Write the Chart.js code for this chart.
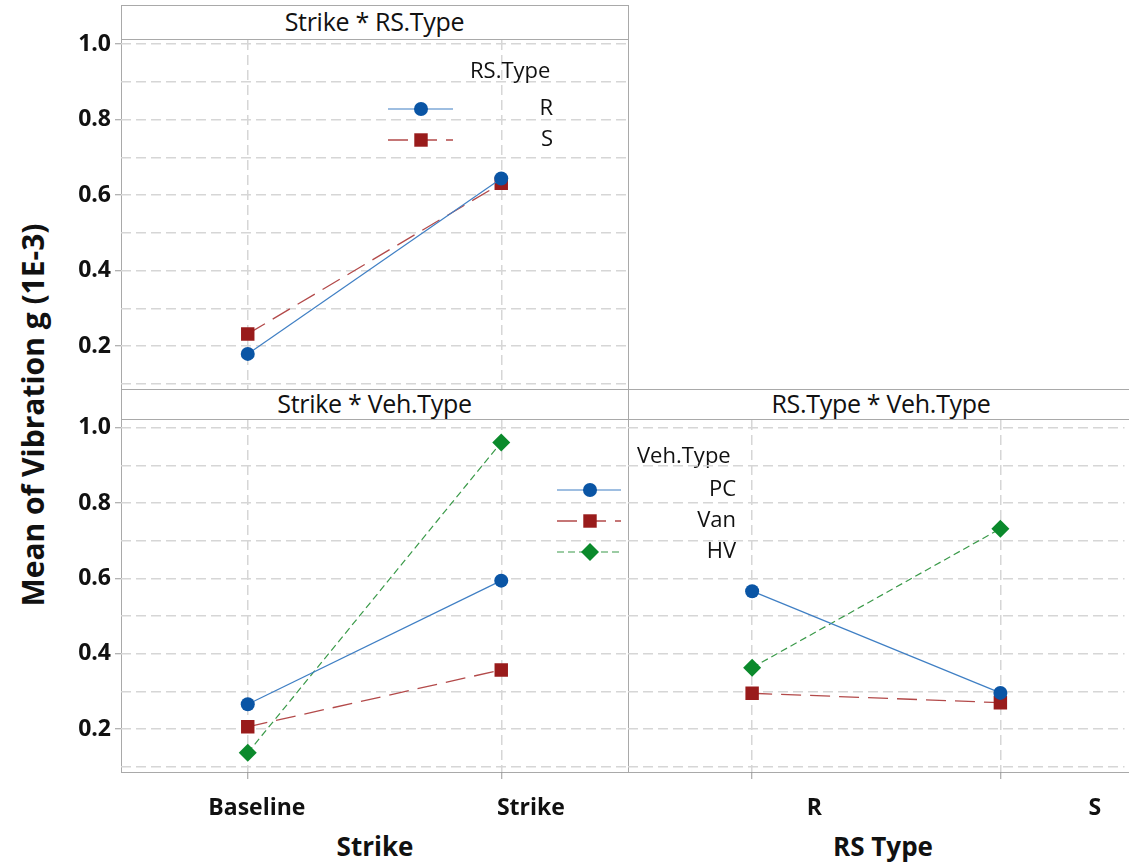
<!DOCTYPE html>
<html>
<head>
<meta charset="utf-8">
<script src="https://cdn.jsdelivr.net/npm/chart.js@4.4.1/dist/chart.umd.min.js"></script>
<style>
  html, body { margin: 0; padding: 0; background: #fff; overflow: hidden; }
  #wrap { position: relative; width: 1129px; height: 867px; font-family: 'Open Sans', 'Noto Sans', sans-serif; color: #111; overflow: hidden; }
  canvas { position: absolute; left: 0; top: 0; }
  .frame { position: absolute; border: 1px solid #a9a9a9; box-sizing: border-box; }
  .rule { position: absolute; background: #a9a9a9; }
  .ptitle { position: absolute; text-align: center; font-size: 25px; letter-spacing: -0.3px; }
  .atitle { position: absolute; text-align: center; font-size: 26px; font-weight: bold; }
</style>
</head>
<body>
<div id="wrap">
  <div class="frame" style="left:121px;top:5px;width:508px;height:385px"></div>
  <div class="rule" style="left:121px;top:39px;width:508px;height:1px"></div>
  <div class="frame" style="left:121px;top:389px;width:1010px;height:384px"></div>
  <div class="rule" style="left:121px;top:419px;width:1010px;height:1px"></div>
  <div class="rule" style="left:628px;top:389px;width:1px;height:384px"></div>

  <div class="ptitle" style="left:121px;top:4px;width:507px;line-height:34px">Strike * RS.Type</div>
  <div class="ptitle" style="left:121px;top:389px;width:507px;line-height:29px">Strike * Veh.Type</div>
  <div class="ptitle" style="left:628px;top:389px;width:506px;line-height:29px">RS.Type * Veh.Type</div>

  <div class="atitle" style="left:-167px;top:399px;width:400px;line-height:32px;font-size:30px;transform:rotate(-90deg)">Mean of Vibration g (1E-3)</div>
  <div class="atitle" style="left:275px;top:830px;width:200px;line-height:32px">Strike</div>
  <div class="atitle" style="left:783px;top:830px;width:200px;line-height:32px">RS Type</div>

  <canvas id="c1" width="1129" height="867"></canvas>
  <canvas id="c2" width="1129" height="867"></canvas>
  <canvas id="c3" width="1134" height="867"></canvas>
</div>
<script>
// factor levels
var STRIKE_LEVELS = ['Baseline', 'Strike'];
var RS_LEVELS = ['R', 'S'];

// means
var R_BY_STRIKE = [0.179, 0.644];
var S_BY_STRIKE = [0.232, 0.631];
var PC_BY_STRIKE = [0.266, 0.594];
var VAN_BY_STRIKE = [0.206, 0.357];
var HV_BY_STRIKE = [0.137, 0.961];
var PC_BY_RS = [0.566, 0.296];
var VAN_BY_RS = [0.295, 0.270];
var HV_BY_RS = [0.363, 0.732];

// y gridlines (labels on every other one)
var Y_GRID = [0.1, 0.2, 0.3, 0.4, 0.5, 0.6, 0.7, 0.8, 0.9, 1.0];

// where the x tick labels sit (in level units, as in the original)
var STRIKE_LABEL_AT = [0.036, 1.117];
var RS_LABEL_AT = [0.251, 1.381];

var FONT = "'Open Sans', 'Noto Sans', sans-serif";
var GRID = '#d6d6d6';

function blue(label, data) {
	return { label: label, data: data, xAxisID: 'x', borderColor: '#3f7fc4', borderWidth: 1.2,
		pointStyle: 'circle', pointRadius: 7, pointBackgroundColor: '#0a55a5', pointBorderWidth: 0 };
}
function red(label, data) {
	return { label: label, data: data, xAxisID: 'x', borderColor: '#b34a4a', borderWidth: 1.3, borderDash: [20, 9],
		pointStyle: 'rect', pointRadius: 9.5, pointBackgroundColor: '#991b1b', pointBorderWidth: 0 };
}
function green(label, data) {
	return { label: label, data: data, xAxisID: 'x', borderColor: '#3b9a4a', borderWidth: 1.2, borderDash: [7, 4],
		pointStyle: 'rectRot', pointRadius: 9, pointBackgroundColor: '#0b8a2c', pointBorderWidth: 0 };
}

function drawMarker(ctx, style, r, x, y) {
	ctx.beginPath();
	if (style === 'circle') {
		ctx.arc(x, y, r, 0, Math.PI * 2);
	} else if (style === 'rect') {
		var s = r * Math.SQRT1_2;
		ctx.rect(x - s, y - s, 2 * s, 2 * s);
	} else {
		ctx.moveTo(x, y - r); ctx.lineTo(x + r, y); ctx.lineTo(x, y + r); ctx.lineTo(x - r, y);
		ctx.closePath();
	}
	ctx.fill();
}

// minitab style legend: title, line sample with marker, label right aligned
var mtbLegend = {
	id: 'mtbLegend',
	afterDraw: function (chart, args, o) {
		if (!o.title) return;
		var ctx = chart.ctx;
		ctx.save();
		ctx.font = '22px ' + FONT;
		ctx.fillStyle = '#111';
		ctx.textBaseline = 'middle';
		ctx.textAlign = 'left';
		ctx.fillText(o.title, o.titleX, o.titleY);
		chart.data.datasets.forEach(function (ds, i) {
			var y = o.rowY + i * o.rowH;
			ctx.strokeStyle = ds.borderColor;
			ctx.lineWidth = ds.borderWidth;
			ctx.setLineDash(ds.borderDash || []);
			ctx.beginPath(); ctx.moveTo(o.x0, y); ctx.lineTo(o.x1, y); ctx.stroke();
			ctx.setLineDash([]);
			ctx.fillStyle = ds.pointBackgroundColor;
			drawMarker(ctx, ds.pointStyle, ds.pointRadius, o.xm, y);
			ctx.fillStyle = '#111';
			ctx.textAlign = 'right';
			ctx.fillText(ds.label, o.textRight, y);
		});
		ctx.restore();
	}
};

function yAxis(min, max, showLabels) {
	return {
		min: min, max: max,
		afterBuildTicks: function (s) { s.ticks = Y_GRID.map(function (v) { return { value: v }; }); },
		afterFit: function (s) { s.width = showLabels ? 121 : 0; },
		border: { display: false, dash: [10, 5] },
		grid: { color: GRID, lineWidth: 1.5, drawTicks: showLabels, tickLength: 6, tickWidth: 1,
			tickColor: function (c) { return Math.round(c.tick.value * 10) % 2 === 0 ? '#999' : 'rgba(0,0,0,0)'; } },
		ticks: { display: showLabels, padding: 4, color: '#111', font: { family: FONT, size: 23, weight: 'bold' },
			callback: function (v) { return Math.round(v * 10) % 2 === 0 ? v.toFixed(1) : ''; } }
	};
}

function gridX(showTicks) {
	return {
		type: 'category', offset: true,
		afterFit: function (s) { s.height = showTicks ? 8 : 0; },
		border: { display: false, dash: [10, 5] },
		grid: { offset: false, color: GRID, lineWidth: 1.5, drawTicks: showTicks, tickLength: 7, tickColor: '#999', tickWidth: 1 },
		ticks: { display: false }
	};
}

function labelX(labels, at) {
	return {
		type: 'linear', position: 'bottom', min: -0.5, max: 1.5,
		afterBuildTicks: function (s) { s.ticks = at.map(function (v) { return { value: v }; }); },
		afterFit: function (s) { s.height = 60; },
		border: { display: false },
		grid: { display: false, drawTicks: false },
		ticks: { autoSkip: false, maxRotation: 0, padding: 15, color: '#111',
			font: { family: FONT, size: 23, weight: 'bold' },
			callback: function (v, i) { return labels[i]; } }
	};
}

function makeChart(id, labels, datasets, scales, padding, legend) {
	return new Chart(document.getElementById(id), {
		type: 'line',
		data: { labels: labels, datasets: datasets },
		options: {
			responsive: false,
			animation: false,
			layout: { padding: padding },
			plugins: { legend: { display: false }, tooltip: { enabled: false }, mtbLegend: legend },
			scales: scales
		},
		plugins: [mtbLegend]
	});
}

makeChart('c1', STRIKE_LEVELS,
	[blue('R', R_BY_STRIKE), red('S', S_BY_STRIKE)],
	{ x: gridX(false), y: yAxis(0.086, 1.011, true) },
	{ left: 0, right: 501, top: 40, bottom: 478 },
	{ title: 'RS.Type', titleX: 470, titleY: 72, rowY: 109, rowH: 31, x0: 388, x1: 453, xm: 421, textRight: 553 });

makeChart('c2', STRIKE_LEVELS,
	[blue('PC', PC_BY_STRIKE), red('Van', VAN_BY_STRIKE), green('HV', HV_BY_STRIKE)],
	{ x: gridX(true), xl: labelX(STRIKE_LEVELS, STRIKE_LABEL_AT), y: yAxis(0.086, 1.0204, true) },
	{ left: 0, right: 501, top: 420, bottom: 27 },
	{ title: 'Veh.Type', titleX: 637, titleY: 457, rowY: 490, rowH: 31, x0: 557, x1: 621, xm: 590, textRight: 736 });

makeChart('c3', RS_LEVELS,
	[blue('PC', PC_BY_RS), red('Van', VAN_BY_RS), green('HV', HV_BY_RS)],
	{ x: gridX(true), xl: labelX(RS_LEVELS, RS_LABEL_AT), y: yAxis(0.086, 1.0204, false) },
	{ left: 628, right: 0, top: 420, bottom: 27 },
	{});
</script>
</body>
</html>
